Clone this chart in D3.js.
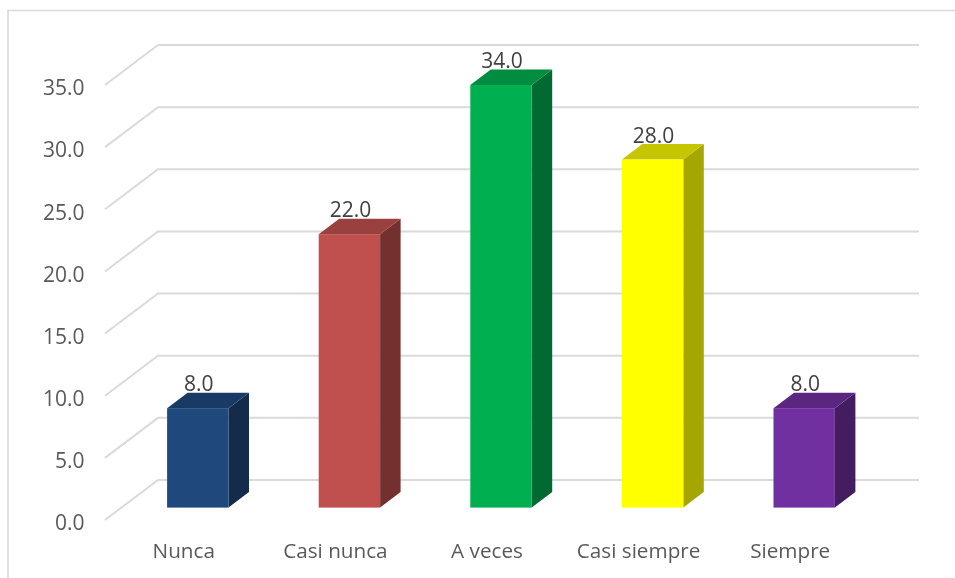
<!DOCTYPE html>
<html><head><meta charset="utf-8">
<style>html,body{margin:0;padding:0;background:#fff}svg{display:block;filter:blur(0.35px)}text{font-family:"Open Sans",sans-serif}</style>
<script src="https://cdn.jsdelivr.net/npm/d3@7"></script></head>
<body><script>
const categories = ["Nunca","Casi nunca","A veces","Casi siempre","Siempre"];
const values = [8,22,34,28,8];
const frontColors = ["#1f497d","#c0504d","#00b050","#ffff00","#7030a0"];
const topColors = ["#193a64","#9a403e","#008d40","#c6c600","#5a2680"];
const sideColors = ["#132c4b","#73302e","#006a30","#a6a600","#431d60"];
const ticks = [0,5,10,15,20,25,30,35];

const W=955,H=578;
const svg=d3.select("body").append("svg").attr("width",W).attr("height",H);
svg.append("path").attr("d",`M8,${H}V10.5H${W}`).attr("fill","none").attr("stroke","#d9d9d9").attr("stroke-width",1.6);

const wallDx=53, wallDy=40, barDx=20.5, barDy=15.5;
const yWall=d3.scaleLinear().domain([0,35]).range([520,85]);
const yBar=d3.scaleLinear().domain([0,35]).range([507.6,72.6]);
const x=d3.scaleBand().domain(categories).range([122,880]).paddingInner(0.595).paddingOuter(0.2975);

const grid=svg.append("g").attr("fill","none").attr("stroke","#dadada").attr("stroke-width",2);
grid.selectAll("path").data(ticks).join("path")
  .attr("d",d=>`M105,${yWall(d)}L${105+wallDx},${yWall(d)-wallDy}H919`);

const yAxis=d3.axisLeft(yWall).tickValues(ticks).tickFormat(d3.format(".1f")).tickSize(0).tickPadding(0);
const ax=svg.append("g").attr("transform","translate(84.5,3)").call(yAxis);
ax.select(".domain").remove();
ax.selectAll("text").attr("fill","#595959").style("font-size","21px").style("font-family",'"Open Sans",sans-serif');

const bars=svg.append("g").selectAll("g").data(categories).join("g");
bars.append("path").attr("fill",(d,i)=>sideColors[i])
  .attr("d",(d,i)=>{const r=x(d)+x.bandwidth(),t=yBar(values[i]),b=yBar(0);return `M${r},${t}l${barDx},${-barDy}V${b-barDy}L${r},${b}Z`;});
bars.append("path").attr("fill",(d,i)=>topColors[i])
  .attr("d",(d,i)=>{const l=x(d),r=l+x.bandwidth(),t=yBar(values[i]);return `M${l},${t}l${barDx},${-barDy}H${r+barDx}L${r},${t}Z`;});
bars.append("rect").attr("fill",(d,i)=>frontColors[i])
  .attr("x",d=>x(d)).attr("width",x.bandwidth())
  .attr("y",(d,i)=>yBar(values[i])).attr("height",(d,i)=>yBar(0)-yBar(values[i]));
bars.append("text").attr("text-anchor","middle").attr("fill","#404040").style("font-size","21px")
  .attr("x",d=>x(d)+x.bandwidth()/2+1).attr("y",(d,i)=>yBar(values[i])-17)
  .text((d,i)=>d3.format(".1f")(values[i]));

svg.append("g").selectAll("text").data(categories).join("text")
  .attr("text-anchor","middle").attr("fill","#595959").style("font-size","20.7px")
  .attr("x",d=>x(d)+x.bandwidth()/2-14).attr("y",558).text(d=>d);
</script></body></html>
